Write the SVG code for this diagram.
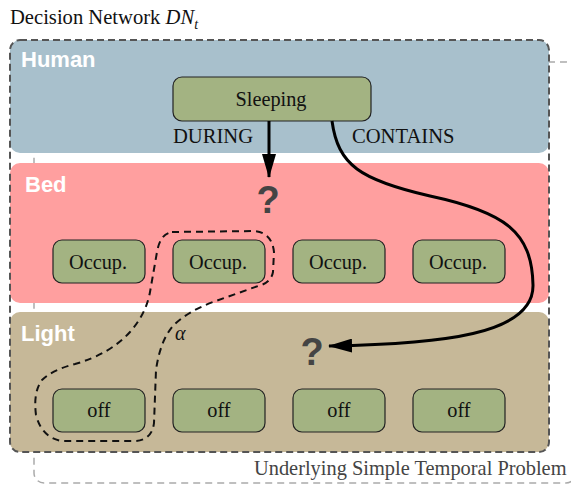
<svg xmlns="http://www.w3.org/2000/svg" width="571" height="485" viewBox="0 0 571 485">
<defs>
<style>
.serif{font-family:"Liberation Serif","Times New Roman",serif;font-size:20.6px;fill:#111}
.ptitle{font-family:"Liberation Sans",Arial,sans-serif;font-weight:bold;font-size:22px;fill:#fff}
.q{font-family:"Liberation Sans",Arial,sans-serif;font-weight:bold;font-size:38px;fill:#444;text-anchor:middle}
.node{fill:#a3b382;stroke:#222;stroke-width:1.2}
.ntext{font-family:"Liberation Serif","Times New Roman",serif;font-size:20.3px;fill:#111;text-anchor:middle}
.conn{fill:none;stroke:#000;stroke-width:3}
</style>
<marker id="ah2" viewBox="0 0 24 14" refX="23" refY="7" markerWidth="24" markerHeight="14" markerUnits="userSpaceOnUse" orient="auto">
<path d="M0,0 L24,7 L0,14 Z" fill="#000"/>
</marker>
</defs>
<rect width="571" height="485" fill="#fff"/>

<g id="stp">
<rect x="34" y="62" width="542" height="421" rx="10" fill="none" stroke="#aaa" stroke-width="1.5" stroke-dasharray="7,5"/>
<text x="254" y="475" style="font-family:'Liberation Serif','Times New Roman',serif;font-size:20.4px;fill:#444">Underlying Simple Temporal Problem</text>
</g>

<text x="10" y="24" class="serif">Decision Network <tspan font-style="italic">DN</tspan><tspan font-style="italic" font-size="14" dy="5">t</tspan></text>

<g id="human">
<rect x="10" y="40" width="539" height="113" rx="10" fill="#a8c0cc"/>
<text x="21" y="67" class="ptitle">Human</text>
</g>
<g id="bed">
<rect x="10" y="163" width="539" height="140" rx="10" fill="#ff9f9f"/>
<text x="25" y="192" class="ptitle">Bed</text>
</g>
<g id="light">
<rect x="10" y="312" width="539" height="140" rx="10" fill="#c6b898"/>
<text x="21" y="341" class="ptitle">Light</text>
</g>
<rect x="10" y="40" width="539" height="412" rx="10" fill="none" stroke="#555" stroke-width="2" stroke-dasharray="7,4"/>

<g id="sleeping">
<rect x="173" y="77" width="198" height="44" rx="9" class="node"/>
<text x="271" y="106" class="ntext">Sleeping</text>
</g>

<g id="bed-nodes">
<g id="occ1"><rect x="53" y="240" width="92" height="43" rx="9" class="node"/><text x="98" y="269" class="ntext">Occup.</text></g>
<g id="occ2"><rect x="173" y="240" width="92" height="43" rx="9" class="node"/><text x="218" y="269" class="ntext">Occup.</text></g>
<g id="occ3"><rect x="293" y="240" width="92" height="43" rx="9" class="node"/><text x="338" y="269" class="ntext">Occup.</text></g>
<g id="occ4"><rect x="413" y="240" width="92" height="43" rx="9" class="node"/><text x="458" y="269" class="ntext">Occup.</text></g>
</g>
<g id="light-nodes">
<g id="off1"><rect x="53" y="389" width="92" height="43" rx="9" class="node"/><text x="99" y="417" class="ntext">off</text></g>
<g id="off2"><rect x="173" y="389" width="92" height="43" rx="9" class="node"/><text x="219" y="417" class="ntext">off</text></g>
<g id="off3"><rect x="293" y="389" width="92" height="43" rx="9" class="node"/><text x="339" y="417" class="ntext">off</text></g>
<g id="off4"><rect x="413" y="389" width="92" height="43" rx="9" class="node"/><text x="459" y="417" class="ntext">off</text></g>
</g>

<g id="q1"><text x="268" y="213" class="q">?</text></g>
<g id="q2"><text x="312" y="365" class="q">?</text></g>

<g id="alpha">
<path d="M172,232 L255,231 Q272,233 274,252 L273,272 Q271,283 258,286 L213,302 Q186,312 172,327 Q160,342 156,370 L154,423 Q152,440 135,441 L62,441 Q42,438 36,415 Q33,392 42,380 Q52,370 75,364 Q110,354 130,332 Q146,314 150,292 L157,252 Q160,234 172,232 Z" fill="none" stroke="#111" stroke-width="2" stroke-dasharray="7,5"/>
<text x="175" y="340" style="font-family:'Liberation Serif','Times New Roman',serif;font-size:20px;font-style:italic;fill:#111">α</text>
</g>

<g id="connectors">
<line x1="269" y1="121" x2="269" y2="177" class="conn" marker-end="url(#ah2)"/>
<text x="173" y="143" class="serif">DURING</text>
<path d="M332,121 C338,165 360,180 430,196 C505,212 532,232 533,285 C534,335 440,344 329,346" class="conn" marker-end="url(#ah2)"/>
<text x="352" y="143" class="serif">CONTAINS</text>
</g>
</svg>
